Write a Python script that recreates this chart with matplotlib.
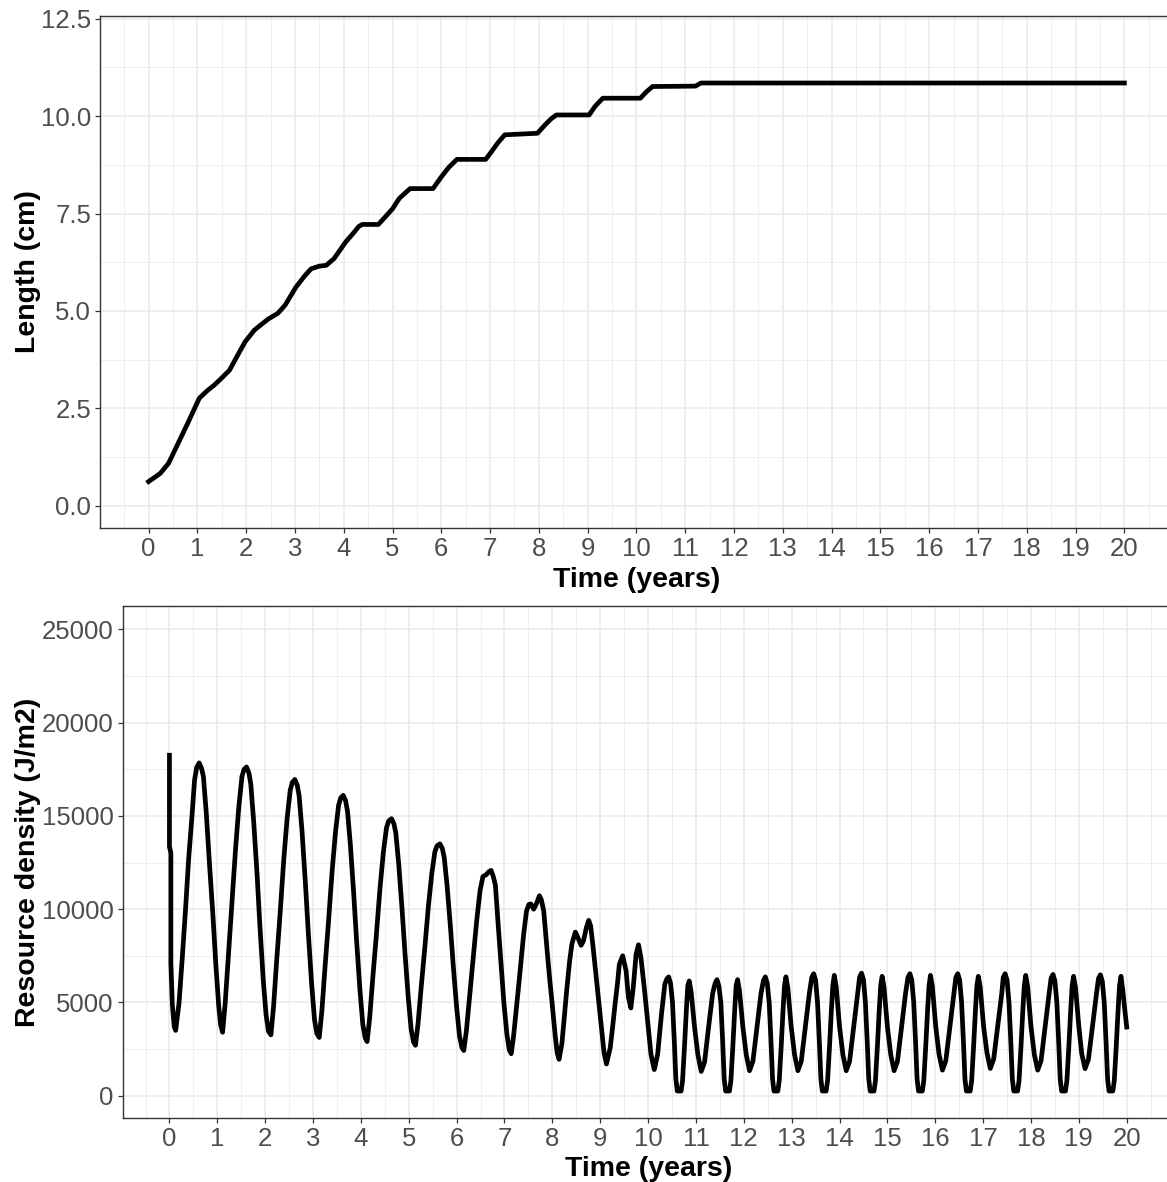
import matplotlib
matplotlib.use("Agg")
import matplotlib.pyplot as plt
from matplotlib.ticker import MultipleLocator

plt.rcParams['font.family'] = ['Liberation Sans', 'DejaVu Sans']

# growth in length (top panel)
time_len = [0.0, 0.24, 0.41, 0.54, 0.64, 0.8, 1.04, 1.2, 1.35, 1.5,
            1.66, 1.82, 1.98, 2.17, 2.45, 2.65, 2.8, 3.02, 3.2, 3.33,
            3.5, 3.64, 3.8, 4.04, 4.2, 4.31, 4.38, 4.71, 4.82, 5.0,
            5.14, 5.36, 5.83, 6.0, 6.15, 6.32, 6.91, 7.03, 7.15, 7.3,
            7.97, 8.13, 8.25, 8.36, 9.03, 9.15, 9.31, 10.08, 10.2, 10.33,
            11.21, 11.32, 20.0]
length_cm = [0.62, 0.83, 1.09, 1.43, 1.69, 2.11, 2.76, 2.95, 3.1, 3.28,
             3.48, 3.85, 4.21, 4.51, 4.79, 4.94, 5.15, 5.61, 5.9, 6.08,
             6.15, 6.17, 6.34, 6.77, 7.0, 7.17, 7.22, 7.22, 7.37, 7.62,
             7.89, 8.14, 8.14, 8.44, 8.68, 8.89, 8.89, 9.09, 9.3, 9.52,
             9.56, 9.78, 9.93, 10.03, 10.03, 10.25, 10.46, 10.46, 10.62, 10.76,
             10.77, 10.85, 10.85]

# resource density (bottom panel), (time, J/m2)
resource_pts = [
    (0.00, 18250), (0.00, 13350), (0.03, 13000), (0.03, 7100), (0.06, 4900), (0.10, 3700), (0.13, 3500),
    (0.20, 4960), (0.27, 7460), (0.34, 10140), (0.40, 12640), (0.47, 14960), (0.525, 16930), (0.57, 17600),
    (0.62, 17840), (0.67, 17550), (0.71, 17110), (0.77, 15140), (0.84, 12290), (0.91, 9610), (0.97, 7000),
    (1.03, 4790), (1.07, 3800), (1.11, 3400),
    (1.165, 4960), (1.23, 7460), (1.30, 10140), (1.38, 13180), (1.45, 15500), (1.515, 17110), (1.56, 17500),
    (1.61, 17620), (1.66, 17300), (1.70, 16700), (1.76, 14700), (1.83, 11900), (1.89, 9100), (1.96, 6200),
    (2.02, 4300), (2.07, 3450), (2.12, 3260),
    (2.175, 4770), (2.24, 7230), (2.31, 9690), (2.39, 12710), (2.46, 14900), (2.525, 16400), (2.57, 16810),
    (2.62, 16950), (2.67, 16650), (2.71, 16060), (2.77, 14180), (2.84, 11420), (2.90, 8790), (2.97, 6020),
    (3.03, 4090), (3.08, 3330), (3.13, 3120),
    (3.185, 4550), (3.25, 6880), (3.32, 9220), (3.40, 12080), (3.47, 14150), (3.535, 15580), (3.58, 15970),
    (3.63, 16100), (3.68, 15810), (3.72, 15260), (3.78, 13460), (3.85, 10820), (3.91, 8310), (3.98, 5670),
    (4.04, 3820), (4.09, 3100), (4.13, 2900),
    (4.185, 4220), (4.25, 6370), (4.32, 8520), (4.40, 11150), (4.47, 13060), (4.535, 14370), (4.58, 14730),
    (4.64, 14850), (4.69, 14580), (4.73, 14070), (4.79, 12420), (4.86, 9990), (4.92, 7680), (4.99, 5250),
    (5.05, 3550), (5.10, 2880), (5.14, 2700),
    (5.195, 3890), (5.26, 5830), (5.33, 7780), (5.41, 10150), (5.48, 11880), (5.545, 13070), (5.59, 13390),
    (5.65, 13500), (5.70, 13260), (5.74, 12790), (5.80, 11280), (5.87, 9070), (5.93, 6960), (6.00, 4750),
    (6.06, 3200), (6.11, 2590), (6.15, 2420),
    (6.205, 3500), (6.27, 5300), (6.34, 7200), (6.42, 9400), (6.49, 11000), (6.55, 11750), (6.62, 11850),
    (6.67, 12000), (6.72, 12080), (6.76, 11800), (6.81, 11300), (6.87, 9100), (6.93, 7000), (6.99, 4900),
    (7.05, 3300), (7.10, 2450), (7.14, 2250),
    (7.19, 3200), (7.25, 4700), (7.30, 6000), (7.35, 7300), (7.40, 8650), (7.46, 9900), (7.51, 10250),
    (7.55, 10280), (7.61, 10000), (7.67, 10300), (7.73, 10720), (7.77, 10500), (7.82, 9900), (7.89, 7800),
    (7.95, 6100), (7.99, 5100), (8.06, 3200), (8.10, 2300), (8.14, 1950),
    (8.20, 2800), (8.25, 4200), (8.30, 5650), (8.36, 7200), (8.41, 8150), (8.48, 8770), (8.53, 8500),
    (8.60, 8060), (8.65, 8300), (8.71, 9000), (8.76, 9400), (8.80, 9100), (8.85, 8000), (8.91, 6500),
    (8.96, 5200), (9.02, 3800), (9.08, 2300), (9.13, 1700),
    (9.21, 2580), (9.26, 3700), (9.31, 4900), (9.36, 6000), (9.40, 7050), (9.47, 7500), (9.54, 6700),
    (9.59, 5260), (9.64, 4700), (9.69, 5800), (9.75, 7590), (9.80, 8090), (9.85, 7410), (9.92, 5800),
    (9.99, 4010), (10.06, 2220), (10.13, 1400),
    (10.20, 2220), (10.28, 4370), (10.35, 5980), (10.39, 6250),
    (10.43, 6370), (10.47, 6020), (10.51, 5000), (10.55, 2800), (10.58, 900), (10.61, 250), (10.69, 250),
    (10.72, 800), (10.76, 2600), (10.80, 4600), (10.83, 5900), (10.86, 6150), (10.90, 5550), (10.97, 3700),
    (11.04, 2200), (11.11, 1300), (11.18, 1800), (11.27, 3800), (11.35, 5500), (11.40, 6020),
    (11.44, 6220), (11.48, 5870), (11.52, 5000), (11.56, 2800), (11.59, 900), (11.62, 250), (11.70, 250),
    (11.73, 800), (11.77, 2600), (11.81, 4600), (11.84, 5900), (11.87, 6220), (11.91, 5620), (11.98, 3700),
    (12.05, 2200), (12.12, 1340), (12.19, 1840), (12.28, 3800), (12.36, 5500), (12.41, 6170),
    (12.45, 6370), (12.49, 6020), (12.53, 5000), (12.57, 2800), (12.60, 900), (12.63, 250), (12.71, 250),
    (12.74, 800), (12.78, 2600), (12.82, 4600), (12.85, 5900), (12.88, 6370), (12.92, 5770), (12.99, 3700),
    (13.06, 2200), (13.13, 1340), (13.20, 1840), (13.29, 3800), (13.37, 5500), (13.42, 6340),
    (13.46, 6540), (13.50, 6190), (13.54, 5000), (13.58, 2800), (13.61, 900), (13.64, 250), (13.72, 250),
    (13.75, 800), (13.79, 2600), (13.83, 4600), (13.86, 5900), (13.89, 6450), (13.93, 5850), (14.00, 3700),
    (14.07, 2200), (14.14, 1340), (14.21, 1840), (14.30, 3800), (14.38, 5500), (14.42, 6370),
    (14.46, 6570), (14.50, 6220), (14.54, 5000), (14.58, 2800), (14.61, 900), (14.64, 250), (14.72, 250),
    (14.75, 800), (14.79, 2600), (14.83, 4600), (14.86, 5900), (14.89, 6400), (14.93, 5800), (15.00, 3700),
    (15.07, 2200), (15.14, 1340), (15.21, 1840), (15.30, 3800), (15.38, 5500), (15.43, 6340),
    (15.47, 6540), (15.51, 6190), (15.55, 5000), (15.59, 2800), (15.62, 900), (15.65, 250), (15.73, 250),
    (15.76, 800), (15.80, 2600), (15.84, 4600), (15.87, 5900), (15.90, 6450), (15.94, 5850), (16.01, 3700),
    (16.08, 2200), (16.15, 1370), (16.22, 1870), (16.31, 3800), (16.39, 5500), (16.43, 6340),
    (16.47, 6540), (16.51, 6190), (16.55, 5000), (16.59, 2800), (16.62, 900), (16.65, 250), (16.73, 250),
    (16.76, 800), (16.80, 2600), (16.84, 4600), (16.87, 5900), (16.90, 6400), (16.94, 5800), (17.01, 3700),
    (17.08, 2300), (17.15, 1460), (17.22, 1960), (17.31, 3850), (17.39, 5500), (17.42, 6340),
    (17.46, 6540), (17.50, 6190), (17.54, 5000), (17.58, 2800), (17.61, 900), (17.64, 250), (17.72, 250),
    (17.75, 800), (17.79, 2600), (17.83, 4600), (17.86, 5900), (17.89, 6450), (17.93, 5850), (18.00, 3700),
    (18.07, 2200), (18.14, 1370), (18.21, 1870), (18.30, 3800), (18.38, 5500), (18.42, 6300),
    (18.46, 6500), (18.50, 6150), (18.54, 5000), (18.58, 2800), (18.61, 900), (18.64, 250), (18.72, 250),
    (18.75, 800), (18.79, 2600), (18.83, 4600), (18.86, 5900), (18.89, 6400), (18.93, 5800), (19.00, 3700),
    (19.06, 2250), (19.13, 1450), (19.20, 1950), (19.29, 3850), (19.37, 5500), (19.41, 6280),
    (19.45, 6480), (19.49, 6130), (19.53, 5000), (19.57, 2800), (19.60, 900), (19.63, 250), (19.71, 250),
    (19.74, 800), (19.78, 2600), (19.82, 4600), (19.85, 5900), (19.88, 6400), (19.92, 5600), (19.96, 4600),
    (20.00, 3680),
]
time_res = [p[0] for p in resource_pts]
resource = [p[1] for p in resource_pts]

x_ticks = list(range(0, 21))
len_ticks = [0.0, 2.5, 5.0, 7.5, 10.0, 12.5]
len_tick_labels = ['0.0', '2.5', '5.0', '7.5', '10.0', '12.5']
res_ticks = [0, 5000, 10000, 15000, 20000, 25000]


def style_panel(ax, minor_y):
    ax.set_facecolor('white')
    ax.xaxis.set_minor_locator(MultipleLocator(0.5))
    ax.yaxis.set_minor_locator(MultipleLocator(minor_y))
    ax.grid(which='major', color='#EBEBEB', linewidth=1.2)
    ax.grid(which='minor', color='#EBEBEB', linewidth=0.6)
    ax.set_axisbelow(True)
    for s in ax.spines.values():
        s.set_color('#333333')
        s.set_linewidth(1.0)
    ax.tick_params(which='major', length=3.5, width=0.9, color='#333333',
                   labelsize=18.5, labelcolor='#4D4D4D', pad=3)
    ax.tick_params(which='minor', length=0)
    ax.set_xticks(x_ticks)


fig = plt.figure(figsize=(11.67, 11.82), dpi=100)

ax1 = fig.add_axes([0.0859, 0.5535, 0.9194, 0.4333])
ax1.plot(time_len, length_cm, color='black', linewidth=3.4, solid_joinstyle='round')
style_panel(ax1, 1.25)
ax1.set_xlim(-0.99, 21.0)
ax1.set_ylim(-0.565, 12.58)
ax1.set_yticks(len_ticks)
ax1.set_yticklabels(len_tick_labels)
ax1.set_xlabel('Time (years)', fontsize=20.5, fontweight='bold', labelpad=4.5)
fig.text(28 / 1167, 1 - 272 / 1182, 'Length (cm)', rotation=90, ha='center', va='center',
         fontsize=20.5, fontweight='bold')

ax2 = fig.add_axes([0.105, 0.0544, 0.9015, 0.4329])
ax2.plot(time_res, resource, color='black', linewidth=3.4, solid_joinstyle='round')
style_panel(ax2, 2500)
ax2.set_xlim(-0.98, 21.0)
ax2.set_ylim(-1180, 26250)
ax2.set_yticks(res_ticks)
ax2.set_xlabel('Time (years)', fontsize=20.5, fontweight='bold', labelpad=3.5)
fig.text(28 / 1167, 1 - 862 / 1182, 'Resource density (J/m2)', rotation=90, ha='center', va='center',
         fontsize=20.5, fontweight='bold')

fig.savefig('out.png', dpi=100, facecolor='white')
